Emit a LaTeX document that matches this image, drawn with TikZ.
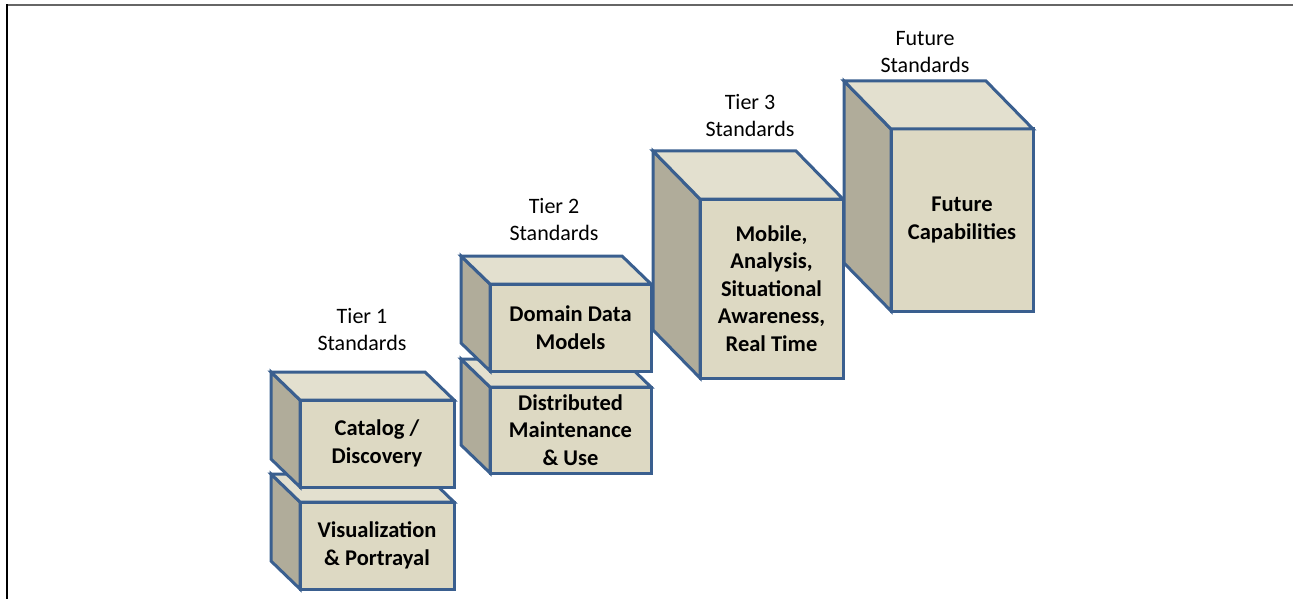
\documentclass[tikz,border=0pt]{standalone}
\usepackage{fontspec}
\setmainfont{Carlito}
\usetikzlibrary{calc}
\definecolor{FrontClr}{HTML}{DDD9C3}
\definecolor{TopClr}{HTML}{E3E0CF}
\definecolor{SideClr}{HTML}{B0AC9A}
\definecolor{EdgeClr}{HTML}{3A5F8F}
\definecolor{FrameClr}{HTML}{666666}

\begin{document}
\begin{tikzpicture}[x=1pt,y=-1pt,
  box/.style={draw=EdgeClr,line width=3pt,fill=FrontClr,inner sep=0pt,outer sep=0pt,
    align=center,font=\bfseries\fontsize{22.5}{27.5}\selectfont},
  topface/.style={draw=EdgeClr,line width=3pt,fill=TopClr},
  sideface/.style={draw=EdgeClr,line width=3pt,fill=SideClr},
  tier/.style={align=center,inner sep=0pt,font=\fontsize{22}{27}\selectfont}]
\useasboundingbox (0,0) rectangle (1293,599);

\draw[FrameClr,line width=2pt] (7,5.5) -- (1293,5.5);
\draw[black,line width=1.5pt] (7,4.5) -- (7,599);

% tier 1
\node[box,minimum width=154pt,minimum height=87pt] (vis) at (377,545.5) {Visualization\\\& Portrayal};
\draw[sideface] (vis.north west) -- ++(-29,-28) -- ($(vis.south west)+(-29,-28)$) -- (vis.south west) -- cycle;
\draw[topface] (vis.north west) -- ++(-29,-28) -- ($(vis.north east)+(-29,-28)$) -- (vis.north east) -- cycle;

\node[box,minimum width=154pt,minimum height=87pt] (cat) at (377,443.5) {Catalog /\\Discovery};
\draw[sideface] (cat.north west) -- ++(-29,-28) -- ($(cat.south west)+(-29,-28)$) -- (cat.south west) -- cycle;
\draw[topface] (cat.north west) -- ++(-29,-28) -- ($(cat.north east)+(-29,-28)$) -- (cat.north east) -- cycle;

% tier 2
\node[box,minimum width=161pt,minimum height=86pt] (dist) at (570.5,430) {Distributed\\Maintenance\\\& Use};
\draw[sideface] (dist.north west) -- ++(-29,-28) -- ($(dist.south west)+(-29,-28)$) -- (dist.south west) -- cycle;
\draw[topface] (dist.north west) -- ++(-29,-28) -- ($(dist.north east)+(-29,-28)$) -- (dist.north east) -- cycle;

\node[box,minimum width=161pt,minimum height=87pt] (ddm) at (570.5,327.5) {Domain Data\\Models};
\draw[sideface] (ddm.north west) -- ++(-29,-28) -- ($(ddm.south west)+(-29,-28)$) -- (ddm.south west) -- cycle;
\draw[topface] (ddm.north west) -- ++(-29,-28) -- ($(ddm.north east)+(-29,-28)$) -- (ddm.north east) -- cycle;

% tier 3 and future
\node[box,minimum width=143pt,minimum height=179pt] (mob) at (771.5,288.5) {Mobile,\\Analysis,\\Situational\\Awareness,\\Real Time};
\draw[sideface] (mob.north west) -- ++(-47,-48) -- ($(mob.south west)+(-47,-48)$) -- (mob.south west) -- cycle;
\draw[topface] (mob.north west) -- ++(-47,-48) -- ($(mob.north east)+(-47,-48)$) -- (mob.north east) -- cycle;

\node[box,minimum width=142pt,minimum height=182pt] (fut) at (962,220) {Future\\Capabilities};
\draw[sideface] (fut.north west) -- ++(-47,-48) -- ($(fut.south west)+(-47,-48)$) -- (fut.south west) -- cycle;
\draw[topface] (fut.north west) -- ++(-47,-48) -- ($(fut.north east)+(-47,-48)$) -- (fut.north east) -- cycle;

\node[tier] (t1) at (362,330) {Tier 1\\Standards};
\node[tier] (t2) at (554,220) {Tier 2\\Standards};
\node[tier] (t3) at (750,116) {Tier 3\\Standards};
\node[tier] (t4) at (925,52) {Future\\Standards};

\end{tikzpicture}
\end{document}
